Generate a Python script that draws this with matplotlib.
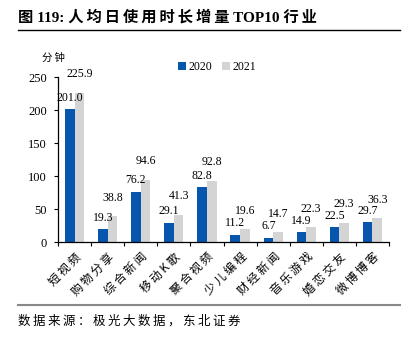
import matplotlib.pyplot as plt
import numpy as np

plt.rcParams['font.family'] = ['Liberation Serif', 'Noto Sans CJK SC', 'DejaVu Sans']

# data
categories = ['短视频', '购物分享', '综合新闻', '移动K歌', '聚合视频',
              '少儿编程', '财经新闻', '音乐游戏', '婚恋交友', '微博博客']
v2020 = [201.0, 19.3, 76.2, 29.1, 82.8, 11.2, 6.7, 14.9, 22.5, 29.7]
v2021 = [225.9, 38.8, 94.6, 41.3, 92.8, 19.6, 14.7, 22.3, 29.3, 36.3]
yticks = [0, 50, 100, 150, 200, 250]

blue = '#0656AE'
gray = '#D4D4D4'
cjk = ['Noto Sans CJK SC', 'DejaVu Sans']


def spaced(s):
    # song-style wide character spacing
    return '\u2009'.join(s)


fig = plt.figure(figsize=(4.06, 3.38), dpi=100)
ax = fig.add_axes([0.143, 0.284, 0.815, 0.488])

x = np.arange(len(categories))
w = 0.29
b1 = ax.bar(x - w / 2, v2020, w, color=blue, label='2020')
b2 = ax.bar(x + w / 2, v2021, w, color=gray, label='2021')

# value labels, 2021 set higher so they don't collide with 2020
for bars, vals, off in ((b1, v2020, 4), (b2, v2021, 9)):
    for r, v in zip(bars, vals):
        ax.annotate(f'{v:.1f}', (r.get_x() + r.get_width() / 2, v),
                    xytext=(0, off), textcoords='offset points',
                    ha='center', va='bottom', fontsize=8.5)

ax.set_xlim(-0.5, len(categories) - 0.5)
ax.set_ylim(0, 250)
ax.set_yticks(yticks)
ax.tick_params(axis='y', labelsize=9, length=3, width=0.8, pad=5)
ax.set_xticks(np.arange(len(categories) + 1) - 0.5)
ax.set_xticklabels([])
ax.tick_params(axis='x', length=3, width=0.8)
ax.set_xticks(x, minor=True)
ax.set_xticklabels([spaced(c) for c in categories], minor=True, rotation=45,
                   ha='right', rotation_mode='anchor', fontsize=8.5, family=cjk)
ax.tick_params(axis='x', which='minor', length=0, pad=6)

for s in ('top', 'right'):
    ax.spines[s].set_visible(False)
ax.spines['left'].set_linewidth(0.9)
ax.spines['bottom'].set_linewidth(0.9)

ax.legend(loc='upper left', bbox_to_anchor=(0.33, 1.16), ncol=2, frameon=False,
          fontsize=8.5, handlelength=0.7, handleheight=0.7, handletextpad=0.2,
          columnspacing=0.8)

fig.text(0.103, 0.83, spaced('分钟'), fontsize=7.5, family=cjk, va='center')

# title and source
fig.text(0.045, 0.948, '图 119: ' + spaced('人均日使用时长增量') + ' TOP10 ' + spaced('行业'),
         fontsize=11, fontweight='bold',
         family=['Liberation Serif', 'Noto Sans CJK SC', 'DejaVu Sans'],
         va='center')
fig.add_artist(plt.Line2D([0.045, 0.985], [0.911, 0.911], color='black', lw=1))
fig.add_artist(plt.Line2D([0.045, 0.985], [0.097, 0.097], color='#888888', lw=1.5))
fig.text(0.045, 0.05, spaced('数据来源：极光大数据，东北证券'), fontsize=9,
         family=cjk, va='center')

fig.savefig('out.png', dpi=100)
